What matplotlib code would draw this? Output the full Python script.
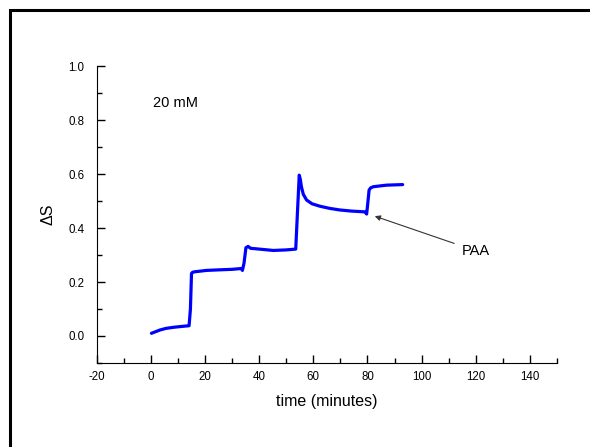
import matplotlib
matplotlib.use('Agg')
import matplotlib.pyplot as plt
from matplotlib.patches import Rectangle
from matplotlib.ticker import MultipleLocator

# Trace (time in minutes, delta S)
time_min = [0.2, 1.5, 3.3, 5.5, 8.2, 11.0, 14.1, 14.6, 15.0, 15.4, 16.2, 18.0, 20.5,
            25.0, 30.0, 33.4, 33.8, 34.4, 35.1, 35.9, 36.8, 40.0, 45.2, 50.0, 53.5,
            54.1, 54.8, 55.2, 55.6, 56.3, 57.5, 59.5, 62.4, 66.0, 69.8, 74.0, 79.0,
            79.7, 80.2, 80.6, 81.2, 82.1, 84.5, 87.1, 90.0, 93.0]
delta_s = [0.010, 0.015, 0.022, 0.028, 0.032, 0.035, 0.038, 0.100, 0.232, 0.236, 0.238,
           0.240, 0.243, 0.245, 0.247, 0.250, 0.243, 0.270, 0.327, 0.332, 0.325, 0.322,
           0.317, 0.319, 0.322, 0.450, 0.596, 0.580, 0.553, 0.525, 0.504, 0.490, 0.481,
           0.473, 0.467, 0.463, 0.460, 0.452, 0.500, 0.541, 0.549, 0.553, 0.556, 0.559,
           0.560, 0.561]

xticks = [-20, 0, 20, 40, 60, 80, 100, 120, 140]
yticks = [0.0, 0.2, 0.4, 0.6, 0.8, 1.0]

plt.rcParams['font.family'] = ['Liberation Sans', 'DejaVu Sans']

fig = plt.figure(figsize=(5.9, 4.47), dpi=100)
ax = fig.add_axes([0.164, 0.188, 0.78, 0.664])

ax.plot(time_min, delta_s, color='#0000ff', linewidth=2.3, solid_capstyle='round')

ax.set_xlim(-20, 150)
ax.set_ylim(-0.1, 1.0)
ax.set_xticks(xticks)
ax.set_xticklabels([str(v) for v in xticks])
ax.set_yticks(yticks)
ax.set_yticklabels([f'{v:.1f}' for v in yticks])
ax.xaxis.set_minor_locator(MultipleLocator(10))
ax.yaxis.set_minor_locator(MultipleLocator(0.1))
ax.tick_params(which='major', direction='in', length=6, width=1, labelsize=8.3)
ax.tick_params(axis='y', which='major', pad=9)
ax.tick_params(axis='x', which='major', pad=6)
ax.tick_params(which='minor', direction='in', length=3.5, width=1)

ax.spines['top'].set_visible(False)
ax.spines['right'].set_visible(False)
ax.spines['left'].set_bounds(-0.1, 1.0)

ax.set_xlabel('time (minutes)', fontsize=11.5, labelpad=8)
ax.set_ylabel('ΔS', fontsize=11.5, labelpad=9)

ax.text(0.7, 0.863, '20 mM', fontsize=10.5, va='center', ha='left')
ax.annotate('PAA', xy=(82.7, 0.444), xytext=(115, 0.315), fontsize=10.5,
            va='center', ha='left',
            arrowprops=dict(arrowstyle='-|>', color='#333333', lw=0.8,
                            shrinkA=4, shrinkB=0, mutation_scale=8))

# outer frame, partly off the image
fig.patches.append(Rectangle((10 / 590, -0.2), 1.2, 1.2 - 10 / 447,
                             transform=fig.transFigure, fill=False,
                             edgecolor='black', linewidth=2.2))

fig.savefig('out.png', dpi=100)
